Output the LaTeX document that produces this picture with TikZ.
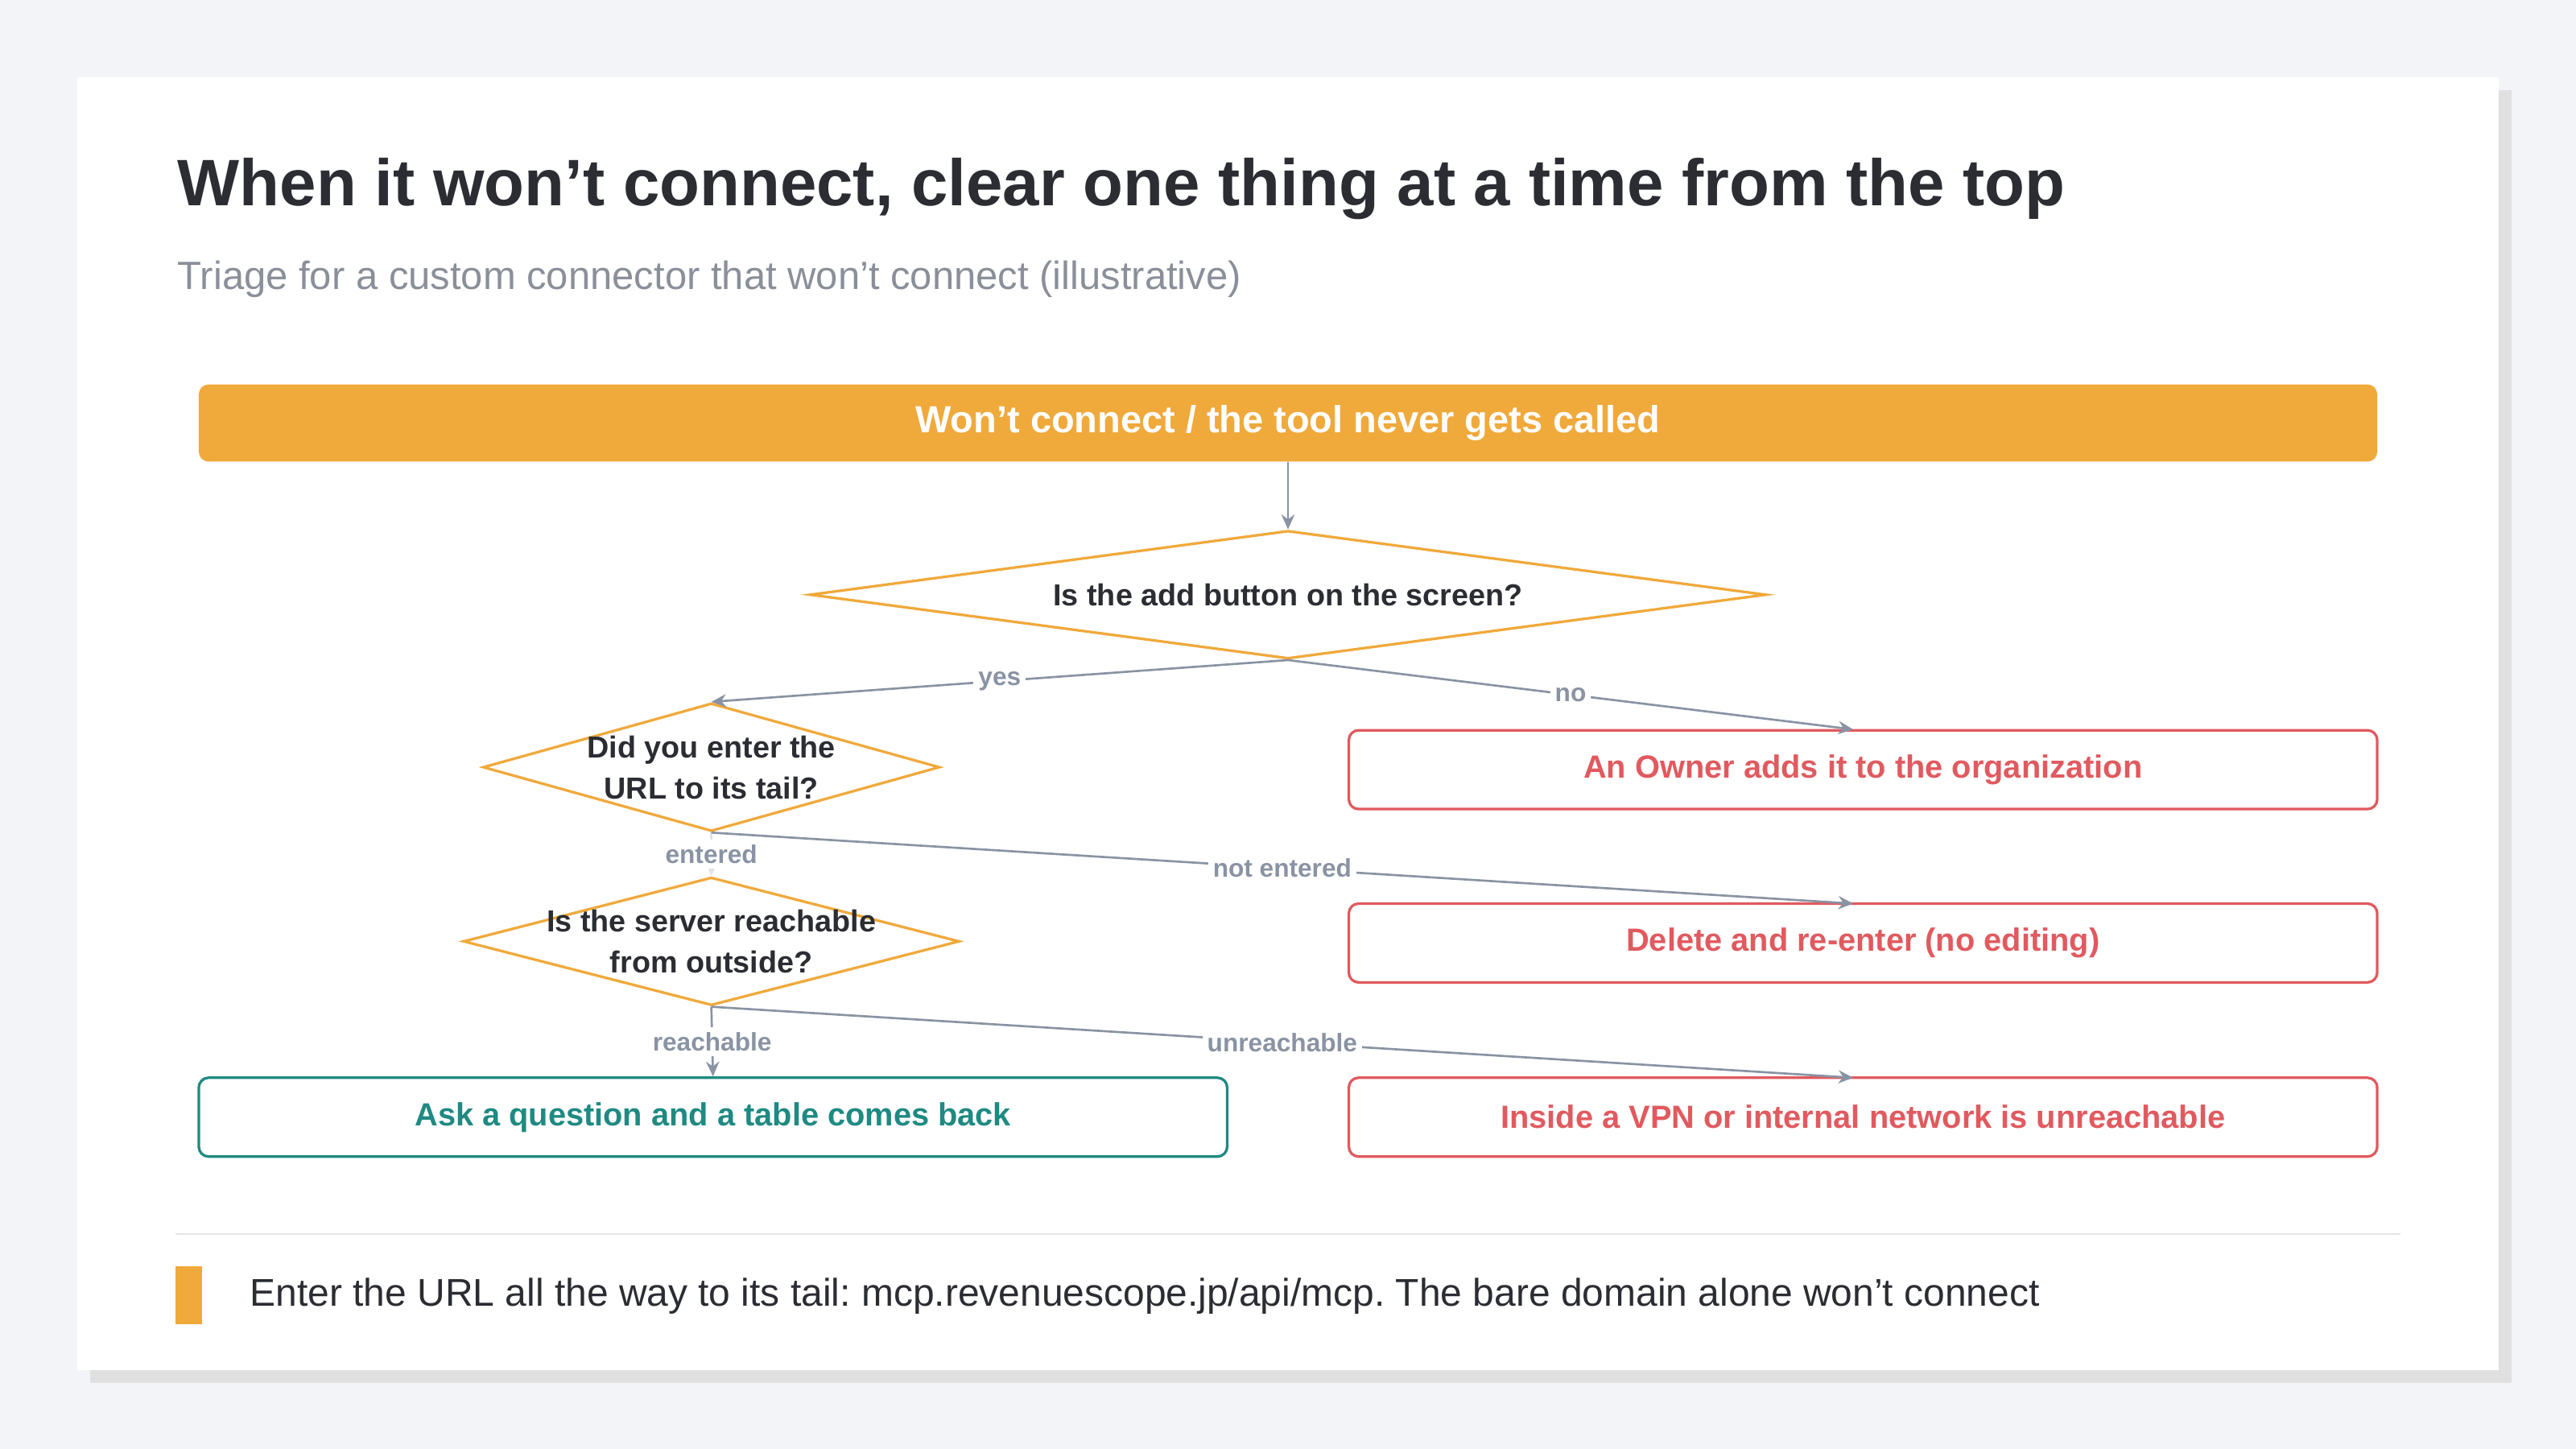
\documentclass[tikz,border=0pt]{standalone}
\usepackage{fontspec}
\setmainfont{Liberation Sans}
\frenchspacing
\usetikzlibrary{shapes.geometric,arrows.meta}
\newcommand\apos{\char39\relax}
\definecolor{bgcol}{HTML}{F3F4F8}
\definecolor{orng}{HTML}{F0A93B}
\definecolor{redc}{HTML}{E05A5F}
\definecolor{tealc}{HTML}{1F8A82}
\definecolor{edgec}{HTML}{8A93A3}
\definecolor{inkc}{HTML}{2B2D33}
\definecolor{subc}{HTML}{8A8F99}
\tikzset{
  fs/.style={font=\fontsize{#1pt}{24pt}\selectfont},
  fsb/.style={font=\fontsize{#1pt}{25pt}\selectfont\bfseries},
  question/.style={diamond, draw=orng, line width=1.6pt, inner sep=0pt},
  qtext/.style={fsb=18.5, text=inkc, align=center},
  endbox/.style={draw=#1, line width=1.6pt, rounded corners=6pt, fill=white,
    text=#1, fsb=19.5, minimum height=48pt, minimum width=626pt},
  flow/.style={draw=edgec, line width=1.3pt, -{Stealth[length=9pt,width=8pt]}},
  elabel/.style={fill=white, text=edgec, fsb=15.5, inner sep=3pt}
}
\begin{document}
\begin{tikzpicture}[x=1pt,y=-1pt]
\useasboundingbox (0,0) rectangle (1568,882);
\fill[bgcol] (0,0) rectangle (1568,882);
\fill[black!12] (55,55) rectangle (1529,842);
\fill[white] (47,47) rectangle (1521,834);

\node[anchor=base west, fsb=40, text=inkc, inner sep=0] (title) at (108,125) {When it won\apos t connect, clear one thing at a time from the top};
\node[anchor=base west, fs=24, text=subc, inner sep=0] (sub) at (108,176) {Triage for a custom connector that won\apos t connect (illustrative)};

\node[fill=orng, rounded corners=6pt, minimum width=1326pt, minimum height=47pt, text=white, fsb=23] (top) at (784,257.5) {Won\apos t connect / the tool never gets called};

\node[question, minimum width=582pt, minimum height=78pt] (q1) at (784,362) {};
\node[qtext] at (q1.center) {Is the add button on the screen?};
\node[question, minimum width=278pt, minimum height=78pt] (q2) at (433,467) {};
\node[qtext] at (q2.center) {Did you enter the\\URL to its tail?};
\node[question, minimum width=302pt, minimum height=78pt] (q3) at (433,573) {};
\node[qtext] at (q3.center) {Is the server reachable\\from outside?};

\node[endbox=redc] (owner) at (1134,468.5) {An Owner adds it to the organization};
\node[endbox=redc] (reenter) at (1134,574) {Delete and re-enter (no editing)};
\node[endbox=redc] (vpn) at (1134,680) {Inside a VPN or internal network is unreachable};
\node[endbox=tealc] (ok) at (434,680) {Ask a question and a table comes back};

\coordinate (owner in) at (1128,444);
\coordinate (reenter in) at (1128,550);
\coordinate (vpn in) at (1128,656);

\draw[flow] (top.south) -- (q1.north);
\draw[flow] (q1.south) -- (q2.north) node[elabel, pos=0.5] {yes};
\draw[flow] (q1.south) -- (owner in) node[elabel, pos=0.5] {no};
\draw[flow, draw=edgec!25] (q2.south) -- (q3.north) node[elabel, pos=0.5] {entered};
\draw[flow] (q2.south) -- (reenter in) node[elabel, pos=0.5] {not entered};
\draw[flow] (q3.south) -- (ok.north) node[elabel, pos=0.5] {reachable};
\draw[flow] (q3.south) -- (vpn in) node[elabel, pos=0.5] {unreachable};

\draw[black!10, line width=1pt] (107,751) -- (1461,751);
\fill[orng] (107,771) rectangle (123,806);
\node[anchor=west, fs=23.5, text=inkc, inner sep=0] (note) at (152,789) {Enter the URL all the way to its tail: mcp.revenuescope.jp/api/mcp. The bare domain alone won\apos t connect};
\end{tikzpicture}
\end{document}
